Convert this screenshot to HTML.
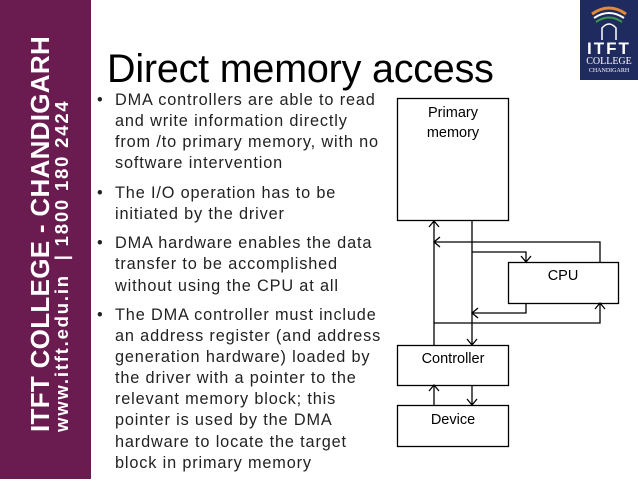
<!DOCTYPE html>
<html><head><style>
body{margin:0;width:638px;height:479px;overflow:hidden;background:#fff;position:relative;font-family:"Liberation Sans",sans-serif}
.side{position:absolute;left:0;top:0;width:91px;height:479px;background:#6a1b50}
.r{position:absolute;color:#fff;font-weight:bold;white-space:nowrap;transform-origin:0 0;transform:rotate(-90deg)}
.logo{position:absolute;left:580px;top:0;width:58px;height:80px;background:#1f2a5e;color:#fff;text-align:center}
h1{position:absolute;left:107px;top:47px;margin:0;font-weight:normal;font-size:39.5px;letter-spacing:-0.2px}
ul{position:absolute;left:97px;top:90px;margin:0;padding:0;list-style:none;font-size:16.3px;line-height:21.1px;color:#222;white-space:nowrap;letter-spacing:0.85px}
li{position:relative;padding-left:18px;margin-bottom:8.4px}
li:before{content:"•";position:absolute;left:0}
</style></head><body>
<div class="side"></div>
<div class="r" style="left:25px;top:432px;font-size:26px;letter-spacing:0.3px">ITFT COLLEGE - CHANDIGARH</div>
<div class="r" style="left:51px;top:432px;font-size:18.5px;letter-spacing:1.8px">www.itft.edu.in&nbsp; | 1800 180 2424</div>
<div class="logo">
<svg width="58" height="40" style="display:block"><path d="M12 14 Q29 2 46 14" stroke="#e08a3a" stroke-width="3" fill="none"/><path d="M14 18 Q29 8 44 18" stroke="#fff" stroke-width="2" fill="none"/><path d="M16 22 Q29 13 42 22" stroke="#3a9a4a" stroke-width="2" fill="none"/><path d="M22 40 V28 Q29 20 36 28 V40" stroke="#fff" stroke-width="1.5" fill="none"/></svg>
<div style="font-size:17px;font-weight:bold;line-height:17px;letter-spacing:2px">ITFT</div>
<div style="font-family:'Liberation Serif',serif;font-size:10px;line-height:10px">COLLEGE</div>
<div style="font-family:'Liberation Serif',serif;font-size:6px;line-height:8px">CHANDIGARH</div>
</div>
<h1>Direct memory access</h1>
<ul>
<li>DMA controllers are able to read<br>and write information directly<br>from /to primary memory, with no<br>software intervention</li>
<li>The I/O operation has to be<br>initiated by the driver</li>
<li>DMA hardware enables the data<br>transfer to be accomplished<br>without using the CPU at all</li>
<li>The DMA controller must include<br>an address register (and address<br>generation hardware) loaded by<br>the driver with a pointer to the<br>relevant memory block; this<br>pointer is used by the DMA<br>hardware to locate the target<br>block in primary memory</li>
</ul>
<svg width="638" height="479" style="position:absolute;left:0;top:0" font-family="Liberation Sans" font-size="15">
<g stroke="#000" stroke-width="1.3" fill="none">
<rect x="397.5" y="98.5" width="111" height="122"/>
<rect x="508.5" y="262.5" width="110" height="41"/>
<rect x="397.5" y="345.5" width="111" height="40"/>
<rect x="397.5" y="405.5" width="111" height="41"/>
<path d="M434 345V221M429 227l5-6 5 6"/>
<path d="M472 221V345M467 339l5 6 5-6"/>
<path d="M600 262V242H434M440 237l-6 5 6 5"/>
<path d="M472 252H526V262M521 256l5 6 5-6"/>
<path d="M526 303V313H472M478 308l-6 5 6 5"/>
<path d="M434 323H600V303M595 309l5-6 5 6"/>
<path d="M434 405V385M429 391l5-6 5 6"/>
<path d="M472 385V405M467 399l5 6 5-6"/>
</g>
<g fill="#000" font-size="14.5" text-anchor="middle">
<text x="453" y="117">Primary</text><text x="453" y="137">memory</text>
<text x="563" y="280">CPU</text>
<text x="453" y="363">Controller</text>
<text x="453" y="424">Device</text>
</g>
</svg>
</body></html>
